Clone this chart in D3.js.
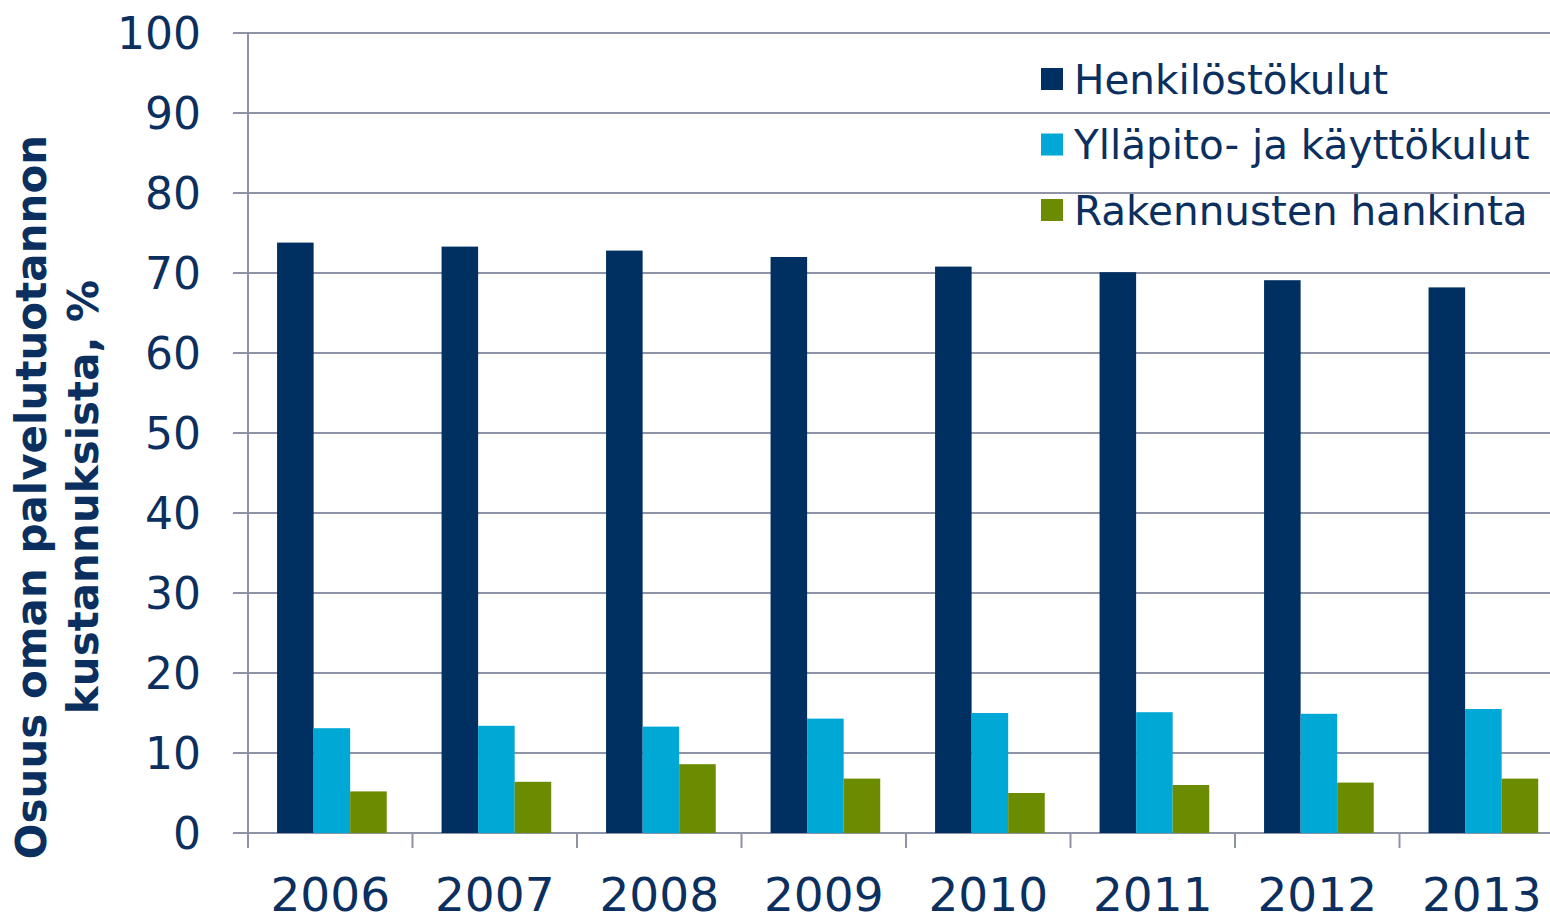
<!DOCTYPE html>
<html>
<head>
<meta charset="utf-8">
<script src="https://cdn.jsdelivr.net/npm/d3@7"></script>
<style>
  body { margin: 0; background: #fff; overflow: hidden; }
  text { font-family: "DejaVu Sans", Verdana, sans-serif; fill: #0b2f5e; }
</style>
</head>
<body>
<script>
// data
const years = ["2006", "2007", "2008", "2009", "2010", "2011", "2012", "2013"];
const seriesNames = ["Henkilöstökulut", "Ylläpito- ja käyttökulut", "Rakennusten hankinta"];
const henkilosto = [73.8, 73.3, 72.8, 72.0, 70.8, 70.1, 69.1, 68.2];
const yllapito = [13.1, 13.4, 13.3, 14.3, 15.0, 15.1, 14.9, 15.5];
const rakennukset = [5.2, 6.4, 8.6, 6.8, 5.0, 6.0, 6.3, 6.8];
const yTicks = [0, 10, 20, 30, 40, 50, 60, 70, 80, 90, 100];
const colors = ["#002f62", "#00a8d6", "#6b8c00"];

const width = 1550, height = 918;
const margin = {top: 33, right: -14, bottom: 85, left: 248};

const svg = d3.select("body").append("svg")
    .attr("width", width)
    .attr("height", height);

const series = [henkilosto, yllapito, rakennukset];
const rows = years.map((y, i) => ({year: y, values: series.map(s => s[i])}));

const x = d3.scaleBand()
    .domain(years)
    .range([margin.left, width - margin.right])
    .paddingInner(0)
    .paddingOuter(0);

const inner = d3.scaleBand()
    .domain(d3.range(series.length))
    .range([0, x.bandwidth()])
    .paddingInner(0)
    .paddingOuter(0.75)
    .align(0.53);

const y = d3.scaleLinear()
    .domain([0, 100])
    .range([height - margin.bottom, margin.top]);

const gridColor = "#8f93a6";

// horizontal gridlines (stick out a little past the axis, like tick marks)
svg.append("g")
    .selectAll("line")
    .data(yTicks)
    .join("line")
    .attr("x1", margin.left - 15)
    .attr("x2", width)
    .attr("y1", d => y(d))
    .attr("y2", d => y(d))
    .attr("stroke", gridColor)
    .attr("stroke-width", 2);

// y axis labels
svg.append("g")
    .selectAll("text")
    .data(yTicks)
    .join("text")
    .attr("x", 201)
    .attr("y", d => y(d))
    .attr("dy", "0.36em")
    .attr("text-anchor", "end")
    .style("font-size", "44px")
    .text(d => d);

// bars
svg.append("g")
    .selectAll("g")
    .data(rows)
    .join("g")
    .attr("transform", d => `translate(${x(d.year)},0)`)
    .selectAll("rect")
    .data(d => d.values.map((v, k) => ({k, v})))
    .join("rect")
    .attr("x", d => inner(d.k))
    .attr("width", inner.bandwidth())
    .attr("y", d => y(d.v))
    .attr("height", d => y(0) - y(d.v))
    .attr("fill", d => colors[d.k]);

// y axis line
svg.append("line")
    .attr("x1", margin.left).attr("x2", margin.left)
    .attr("y1", margin.top).attr("y2", y(0) + 15)
    .attr("stroke", gridColor)
    .attr("stroke-width", 2);

// x ticks between categories
svg.append("g")
    .selectAll("line")
    .data(years)
    .join("line")
    .attr("x1", d => x(d)).attr("x2", d => x(d))
    .attr("y1", y(0)).attr("y2", y(0) + 15)
    .attr("stroke", gridColor)
    .attr("stroke-width", 2);

// x labels
svg.append("g")
    .selectAll("text")
    .data(years)
    .join("text")
    .attr("x", d => x(d) + x.bandwidth() / 2)
    .attr("y", 911)
    .attr("text-anchor", "middle")
    .style("font-size", "47px")
    .text(d => d);

// legend
const legend = svg.append("g")
    .attr("transform", "translate(1041,79)");

const item = legend.selectAll("g")
    .data(seriesNames)
    .join("g")
    .attr("transform", (d, i) => `translate(0,${i * 65.5})`);

item.append("rect")
    .attr("y", -11)
    .attr("width", 22)
    .attr("height", 22)
    .attr("fill", (d, i) => colors[i]);

item.append("text")
    .attr("x", 33)
    .attr("dy", "0.36em")
    .style("font-size", "40.5px")
    .text(d => d);

// y axis title
const title = svg.append("text")
    .attr("transform", "translate(0,497) rotate(-90)")
    .attr("text-anchor", "middle")
    .style("font-size", "42px")
    .style("font-weight", "bold");

title.append("tspan").attr("x", 0).attr("y", 46).text("Osuus oman palvelutuotannon");
title.append("tspan").attr("x", 0).attr("y", 98).text("kustannuksista, %");
</script>
</body>
</html>
